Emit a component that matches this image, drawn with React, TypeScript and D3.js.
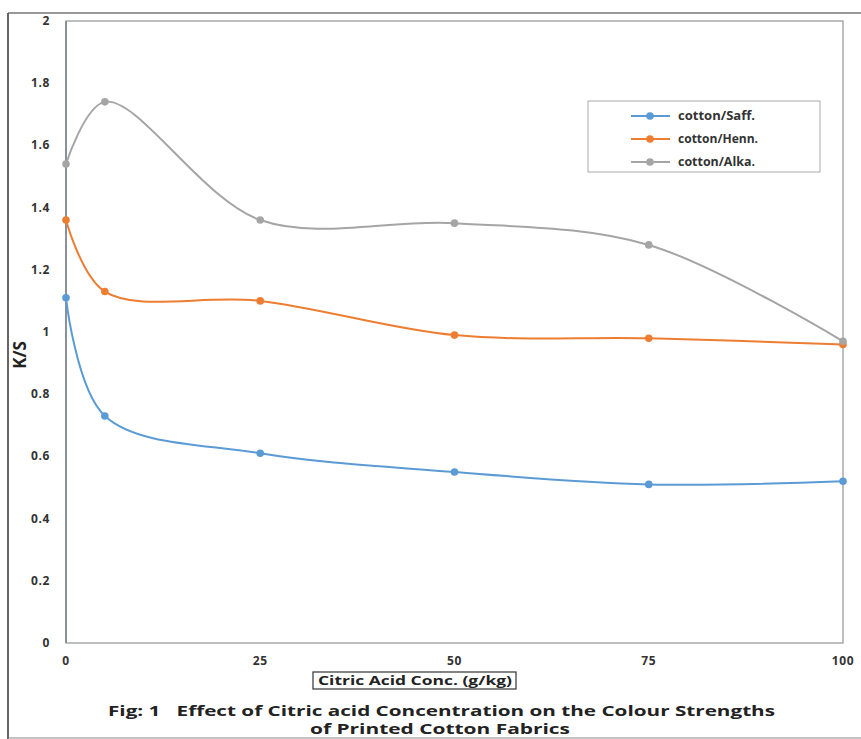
import React from "react";
import * as d3 from "d3";

const xValues = [0, 5, 25, 50, 75, 100];
const saff = [1.11, 0.73, 0.61, 0.55, 0.51, 0.52];
const henn = [1.36, 1.13, 1.1, 0.99, 0.98, 0.96];
const alka = [1.54, 1.74, 1.36, 1.35, 1.28, 0.97];
const seriesNames = ["cotton/Saff.", "cotton/Henn.", "cotton/Alka."];
const seriesColors = ["#5B9BD5", "#ED7D31", "#A5A5A5"];
const xTicks = [0, 25, 50, 75, 100];
const yTicks = [0, 0.2, 0.4, 0.6, 0.8, 1, 1.2, 1.4, 1.6, 1.8, 2];

export default function App() {
  const W = 861, H = 739;
  const left = 66, right = 843, top = 21, bottom = 643;
  const x = d3.scaleLinear().domain([0, 100]).range([left, right]);
  const y = d3.scaleLinear().domain([0, 2]).range([bottom, top]);
  const all = [saff, henn, alka];
  const line = d3
    .line<number>()
    .x((_, i) => x(xValues[i]))
    .y((d) => y(d))
    .curve(d3.curveCatmullRom.alpha(0.5));
  const font = "'Open Sans', 'Noto Sans', sans-serif";
  return (
    <svg width={W} height={H} style={{ position: "absolute", left: 0, top: 0 }}>
      <rect x={0} y={0} width={W} height={H} fill="#fff" />
      {/* outer frame */}
      <line x1={8} y1={13} x2={W} y2={13} stroke="#777" strokeWidth={1.5} />
      <line x1={8} y1={13} x2={8} y2={H} stroke="#666" strokeWidth={2} />
      <line x1={8} y1={738} x2={W} y2={738} stroke="#888" strokeWidth={1.2} />
      {/* plot box */}
      <rect x={left} y={top} width={right - left} height={bottom - top} fill="none" stroke="#aaa" strokeWidth={1.5} />
      <line x1={left} y1={top} x2={left} y2={bottom} stroke="#7a8290" strokeWidth={1.5} />
      {yTicks.map((t) => (
        <text key={t} x={50} y={y(t) + 4} textAnchor="end" fontFamily={font} fontWeight="bold" fontSize={12} letterSpacing={0.6} fill="#333">
          {String(t)}
        </text>
      ))}
      {xTicks.map((t) => (
        <text key={t} x={x(t)} y={665} textAnchor="middle" fontFamily={font} fontWeight="bold" fontSize={12} letterSpacing={0.6} fill="#333">
          {String(t)}
        </text>
      ))}
      <text transform={`translate(26,${355}) rotate(-90)`} textAnchor="middle" fontFamily={font} fontWeight="bold" fontSize={17} fill="#222">
        K/S
      </text>
      {all.map((s, k) => (
        <g key={k}>
          <path d={line(s) || ""} fill="none" stroke={seriesColors[k]} strokeWidth={2} />
          {s.map((v, i) => (
            <circle key={i} cx={x(xValues[i])} cy={y(v)} r={3.8} fill={seriesColors[k]} />
          ))}
        </g>
      ))}
      {/* legend */}
      <rect x={588} y={101} width={232} height={71} fill="#fff" stroke="#aaa" strokeWidth={1} />
      {seriesNames.map((n, k) => (
        <g key={n}>
          <line x1={631} x2={670} y1={116 + k * 23} y2={116 + k * 23} stroke={seriesColors[k]} strokeWidth={2} />
          <circle cx={650} cy={116 + k * 23} r={3.8} fill={seriesColors[k]} />
          <text x={678} y={116 + k * 23 + 4} fontFamily={font} fontWeight="bold" fontSize={12} textLength={k === 1 ? 80 : 77} lengthAdjust="spacingAndGlyphs" fill="#333">
            {n}
          </text>
        </g>
      ))}
      {/* x axis title */}
      <rect x={313} y={672} width={203} height={17} fill="#fff" stroke="#333" strokeWidth={1.2} />
      <text x={318} y={685} fontFamily={font} fontWeight="bold" fontSize={12} textLength={194} lengthAdjust="spacingAndGlyphs" fill="#222">
        Citric Acid Conc. (g/kg)
      </text>
      <text x={108} y={716} fontFamily={font} fontWeight="bold" fontSize={14.5} textLength={667} lengthAdjust="spacingAndGlyphs" fill="#222" xmlSpace="preserve">
        Fig: 1   Effect of Citric acid Concentration on the Colour Strengths
      </text>
      <text x={310} y={734} fontFamily={font} fontWeight="bold" fontSize={14.5} textLength={260} lengthAdjust="spacingAndGlyphs" fill="#222">
        of Printed Cotton Fabrics
      </text>
    </svg>
  );
}
